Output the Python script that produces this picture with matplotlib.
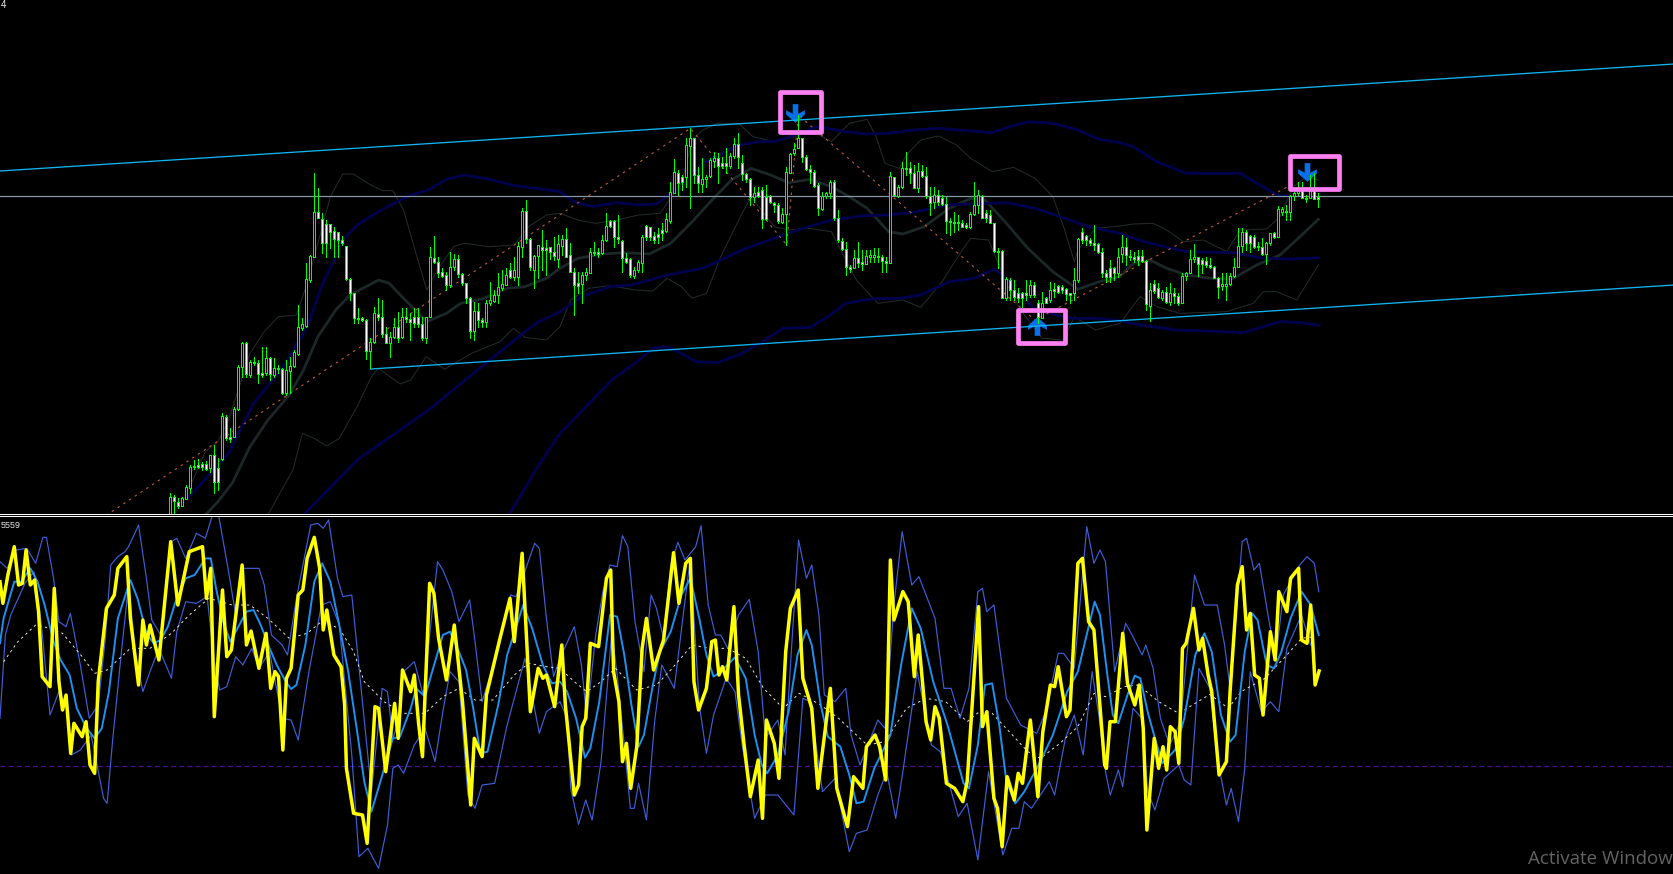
import matplotlib
matplotlib.use("Agg")
import matplotlib.pyplot as plt
from matplotlib.path import Path
from matplotlib.patches import Rectangle

# ---- candle readings (three stretches of bars, each read on its own row scale)
HIGH_A = [1178,1185,1195,1190,1155,1095,1080,1078,1085,1082,1065,1035,1075,940,945,985,920,795,725,727,780,770,780,742,742,770,775,795,805,780,770,750,615,655,490,465,220,265,340,360,372,380,395,408,438,535,580,625,652,658,715,620,595,600,680,695,655,635,625,625,640,625,625,650,650,440,408,470,505,515,455,462,465,520,550,590,605,610,655,600,545,570,520,510,505,490,470,425,325,300,415,465,435,390,420,440,410,405]
LOW_A = [1245,1245,1225,1218,1197,1180,1108,1105,1110,1110,1115,1178,1170,1080,1020,1025,1012,930,830,830,830,795,850,830,825,840,830,820,882,885,880,800,765,690,680,545,470,355,460,472,445,470,470,435,540,600,670,670,662,778,805,728,660,710,730,770,715,725,715,665,720,680,680,720,728,650,490,530,530,570,560,510,530,555,610,715,720,680,680,680,615,605,610,570,555,535,540,555,470,430,510,563,535,510,525,478,480,500]
OPEN_A = [1245,1192,1207,1218,1197,1163,1098,1096,1092,1092,1105,1066,1105,1078,952,1010,1010,928,802,730,825,786,790,820,820,775,825,803,808,880,812,798,762,684,678,540,470,337,358,373,373,393,397,420,438,537,580,655,655,660,752,727,642,650,703,728,710,680,712,650,658,652,652,672,714,650,473,487,517,526,555,500,478,523,550,595,692,634,660,665,610,602,586,564,555,510,530,530,442,334,418,510,468,440,445,442,455,478]
CLOSE_A = [1192,1203,1217,1195,1162,1100,1102,1100,1102,1107,1066,1145,1145,948,1015,1018,928,800,730,822,785,790,822,825,775,822,803,808,878,810,798,757,680,672,538,468,337,355,428,428,395,418,420,428,538,580,655,658,660,752,727,640,650,703,728,710,680,714,650,658,666,668,672,714,652,472,486,518,527,554,502,478,522,550,595,694,634,660,665,610,600,586,562,553,525,530,510,437,334,418,500,468,435,450,450,455,468,432]

HIGH_B = [465,445,490,565,575,575,565,505,485,505,465,400,420,420,405,480,520,535,560,540,465,435,440,455,445,430,400,305,238,270,285,175,145,175,260,235,285,235,215,220,230,205,220,175,160,225,280,295,320,320,320,315,345,365,370,385,260,220,190,105,175,225,255,270,310,335,335,300,300,390,475,485,555,510,485,510,510,510,505,505,525,530,275,290,315,245,215,245,255,250,255,260,320,320,330,345,350,415,395,405,420,430,395,305,330,345,390,390,430,505,510,590,595,600,625,635,600,600,605,660,635,650,605,610,615,615,625,640,565,475,445,465,475,435,490,505,570,540,560,505]
LOW_B = [525,530,575,705,640,670,600,580,525,530,522,482,440,500,490,575,550,590,595,575,575,480,480,490,490,480,455,430,340,345,330,320,385,310,335,335,320,290,262,310,265,280,265,235,265,300,305,375,365,350,445,420,370,395,430,430,495,280,225,205,245,270,310,320,405,390,355,355,420,485,510,585,575,565,560,570,550,545,545,545,575,575,550,345,350,325,285,310,325,335,290,355,405,385,375,375,460,465,455,450,440,445,445,405,400,415,425,430,515,565,655,660,660,660,665,680,660,650,650,730,710,670,665,650,640,640,660,670,660,605,490,495,495,510,520,590,605,605,600,590]
OPEN_B = [497,478,525,575,610,612,585,580,517,517,520,480,424,424,472,482,533,538,587,570,548,438,442,468,463,450,452,422,338,278,292,292,197,175,285,312,298,288,242,235,250,250,258,228,193,250,283,298,352,335,330,350,348,368,375,425,403,278,220,205,175,232,268,275,315,388,348,338,305,415,482,508,560,565,535,545,552,530,530,527,530,543,550,292,348,322,268,265,280,325,272,287,348,365,345,355,372,423,425,425,430,435,440,403,375,347,400,405,430,512,513,655,600,630,638,638,640,645,615,668,715,655,660,628,618,620,628,640,640,600,455,467,480,490,493,515,580,565,565,580]
CLOSE_B = [478,530,575,615,618,585,577,517,520,522,480,437,437,472,478,535,545,585,570,545,470,470,470,480,472,458,418,335,275,310,305,195,175,285,310,298,290,240,235,257,258,258,228,193,230,282,298,352,338,347,418,418,365,375,422,403,277,222,207,175,232,268,275,317,385,348,338,305,415,480,508,562,567,535,550,552,527,525,525,530,543,550,287,345,320,265,265,280,325,272,287,348,368,345,365,372,422,427,428,430,440,440,403,375,345,413,413,430,512,515,655,597,630,650,655,655,645,615,645,710,670,668,630,632,635,630,642,645,600,478,480,480,490,495,515,580,592,590,580,530]

HIGH_C = [315,325,360,365,360,360,390,460,450,460,480,470,460,475,490,430,425,360,343,380,385,380,385,408,440,430,430,430,385,295,295,300,315,315,335,325,335,310,305,228,230,225,195,185,155,155,195,135,130,190]
LOW_C = [395,405,390,395,405,395,540,572,490,505,510,520,525,520,525,520,450,430,395,437,430,410,415,445,505,480,510,465,440,410,365,360,365,355,360,375,403,345,325,320,255,270,270,210,195,205,215,205,205,230]
OPEN_C = [372,352,377,381,378,379,392,528,463,473,505,487,515,490,497,518,437,428,388,382,391,394,405,410,443,468,468,462,437,410,347,307,318,320,348,350,373,338,310,320,245,242,247,197,190,180,203,205,180,200]
CLOSE_C = [352,375,382,388,390,393,523,480,482,500,487,515,490,497,520,438,428,388,382,403,403,405,412,443,470,462,462,437,412,347,307,338,338,352,352,373,338,310,322,238,238,245,197,190,180,205,206,180,207,207]

# ---- price panel overlays: (bar-axis reading, row reading)
CHANNEL_UP = [(0, 213), (4687, -108)]
CHANNEL_LOW = [(1038, 807), (4687, 555)]
PIVOT_LEVEL = 289
ZIGZAG = [(297, 1246), (1933, 85), (2203, 435), (2235, 45), (2898, 660), (3615, 255)]

NAVY_UP_A = [(525,1195),(640,1060),(710,910),(800,790),(860,680),(900,560),(960,420),(1000,375),(1075,325),(1150,285),(1200,270),(1250,238),(1300,225),(1370,238),(1440,257),(1500,265),(1568,275)]
NAVY_UP_B = [(40,365),(90,380),(160,368),(220,375),(270,372),(310,340),(355,310),(400,250),(500,195),(560,185),(600,185),(660,165),(720,140),(800,155),(860,162),(920,160),(990,150),(1060,145),(1140,152),(1210,158),(1260,140),(1310,125),(1380,130),(1450,150),(1510,178),(1568,188)]
NAVY_UP_C = [(400,50),(470,95),(560,130),(720,130),(780,165),(830,195),(870,200)]

NAVY_MID_A = [(850,1245),(1000,1080),(1200,930),(1360,790),(1500,670),(1568,635)]
NAVY_MID_B = [(60,650),(140,620),(200,615),(300,585),(400,565),(450,540),(520,505),(600,475),(680,445),(760,420),(850,407),(920,405),(1000,395),(1080,375),(1150,372),(1250,368),(1330,385),(1400,410),(1480,440),(1568,460)]
NAVY_MID_C = [(400,325),(470,345),(560,365),(700,368),(790,385),(880,387),(955,383)]

NAVY_LOW_A = [(1425,1245),(1500,1110),(1568,1000)]
NAVY_LOW_B = [(145,900),(210,850),(260,805),(300,800),(340,820),(380,845),(440,848),(500,825),(560,790),(625,745),(700,742),(750,710),(800,670),(870,657),(950,655),(1010,645),(1090,605),(1160,595),(1215,568),(1240,585),(1270,620),(1330,690),(1430,715),(1500,715),(1568,722)]
NAVY_LOW_C = [(420,585),(530,600),(620,603),(730,608),(790,590),(840,575),(900,578),(955,585)]

BASIS_A = [(575,1245),(610,1205),(650,1150),(700,1040),(750,960),(810,885),(850,810),(890,710),(940,630),(980,585),(1060,540),(1090,550),(1130,595),(1195,665),(1250,640),(1290,610),(1350,597),(1420,565),(1470,560),(1530,535),(1568,505)]
BASIS_B = [(50,535),(120,522),(180,518),(250,522),(310,490),(370,425),(430,355),(480,300),(535,265),(590,285),(640,308),(700,298),(760,320),(810,350),(860,385),(920,455),(960,462),(1020,440),(1090,385),(1150,355),(1190,360),(1250,430),(1310,505),(1380,575),(1450,628),(1510,605),(1568,590)]
BASIS_C = [(400,400),(450,390),(500,415),(560,435),(650,447),(700,445),(770,405),(840,375),(900,320),(955,268)]

THIN_UP_A = [(530,1165),(575,1055),(610,1025),(640,960),(700,760),(740,695),(780,650),(830,645),(860,550),(900,390),(925,290),(960,222),(990,222),(1030,250),(1070,272),(1100,272),(1130,330),(1170,480),(1195,570),(1225,510),(1270,440),(1300,430),(1370,440),(1440,435),(1480,380),(1530,345),(1568,340)]
THIN_UP_B = [(50,420),(100,430),(160,420),(220,405),(280,400),(340,310),(370,180),(400,150),(440,130),(500,130),(540,170),(600,185),(660,170),(700,150),(760,185),(810,130),(860,118),(885,170),(910,250),(950,265),(970,225),(1010,180),(1060,168),(1110,195),(1150,235),(1210,275),(1270,262),(1330,295),(1380,350),(1410,440),(1440,545),(1450,510),(1500,445),(1568,438)]
THIN_UP_C = [(400,282),(460,280),(500,300),(550,335),(610,330),(680,365),(720,300),(800,297),(840,260),(880,170),(920,140),(955,150)]

THIN_LOW_A = [(750,1245),(820,1110),(847,1000),(880,1015),(915,1038),(950,1015),(1000,920),(1040,830),(1060,805),(1120,852),(1150,840),(1193,770),(1245,808),(1320,760),(1400,725),(1438,685),(1470,712),(1530,720),(1568,680)]
THIN_LOW_B = [(30,660),(80,625),(140,617),(210,630),(260,633),(300,595),(340,620),(370,655),(410,640),(450,530),(510,400),(535,350),(600,440),(640,450),(700,445),(760,455),(800,540),(830,600),(890,670),(960,660),(1010,682),(1070,605),(1120,520),(1150,475),(1200,480),(1250,610),(1290,690),(1350,775),(1410,780),(1440,710),(1500,750),(1568,730)]
THIN_LOW_C = [(420,500),(470,530),(540,550),(600,548),(680,545),(760,520),(790,485),(830,485),(890,510),(955,405)]

# ---- oscillator panel
YELLOW_A = [(0,230),(8,295),(22,210),(40,125),(52,240),(63,235),(73,135),(85,240),(97,225),(108,320),(118,515),(140,545),(152,250),(165,530),(175,615),(185,570),(198,745),(207,655),(230,695),(241,650),(252,780),(265,805),(275,530),(298,310),(320,270),(330,190),(355,155),(365,340),(388,540),(400,345),(410,420),(420,360),(445,465),(478,110),(498,300),(530,140),(567,125),(578,280),(590,190),(600,635),(623,255),(635,455),(648,435),(678,180),(690,420),(703,378),(725,490),(745,385),(758,550),(770,500),(780,515),(792,735),(802,520),(815,490),(835,270),(848,255),(860,160),(880,97),(895,190),(905,375),(915,315),(935,450),(955,485),(965,600),(970,790),(990,925),(1015,930),(1028,1015),(1050,605),(1060,610),(1080,800),(1105,595),(1115,700),(1127,495),(1150,560),(1160,510),(1172,655),(1183,755),(1203,235),(1215,265),(1228,400),(1250,525),(1272,360),(1295,590),(1318,900),(1328,700),(1350,755),(1362,570),(1400,400),(1428,280),(1440,410),(1462,145),(1485,620),(1507,490),(1520,520),(1530,510),(1553,605)]
YELLOW_B = [(5,420),(15,600),(40,870),(52,840),(62,665),(72,640),(85,415),(108,425),(130,220),(142,195),(150,500),(165,590),(175,770),(186,715),(198,850),(215,725),(230,430),(242,340),(262,495),(290,405),(318,143),(333,295),(352,175),(365,160),(375,530),(388,615),(410,550),(425,410),(435,405),(445,510),(455,485),(467,525),(487,305),(500,570),(515,715),(533,875),(555,765),(567,940),(578,645),(600,715),(613,820),(632,440),(645,310),(667,255),(680,520),(705,610),(722,850),(757,550),(775,850),(805,965),(822,815),(848,850),(858,725),(882,690),(895,725),(912,825),(925,165),(935,345),(960,260),(975,290),(992,515),(1003,390),(1025,650),(1038,705),(1050,605),(1062,640),(1082,835),(1105,850),(1128,890),(1140,830),(1172,305),(1183,665),(1195,620),(1215,880),(1225,910),(1238,1025),(1252,815),(1272,885),(1283,805),(1295,835),(1317,645),(1338,875),(1352,680),(1373,540),(1385,545),(1395,485),(1418,635),(1428,615),(1450,175),(1463,160),(1480,350),(1495,375),(1525,780),(1530,790),(1540,650),(1555,650)]
YELLOW_C = [(62,385),(75,535),(95,600),(107,540),(118,670),(128,975),(148,700),(160,790),(172,725),(182,795),(192,665),(205,680),(215,775),(225,430),(235,415),(255,310),(270,435),(280,400),(295,510),(305,560),(325,810),(345,770),(355,560),(375,240),(388,185),(400,375),(410,325),(422,510),(435,520),(445,630),(465,380),(478,465),(488,260),(510,320),(520,220),(542,190),(550,405),(565,415),(575,300),(587,540),(598,498)]

SIGNAL_A = [(0,415),(10,340),(40,230),(60,230),(85,190),(105,230),(125,300),(150,410),(170,465),(195,510),(215,610),(240,665),(265,700),(285,670),(305,560),(330,340),(365,225),(385,280),(410,385),(430,415),(450,405),(470,365),(490,295),(520,220),(545,210),(575,160),(590,160),(605,250),(625,350),(645,410),(665,370),(690,320),(710,315),(730,360),(755,430),(775,480),(800,530),(815,552),(830,540),(855,420),(880,230),(902,175),(925,230),(950,360),(975,500),(1000,680),(1020,830),(1040,920),(1065,830),(1100,700),(1120,695),(1150,610),(1165,550),(1190,575),(1210,500),(1240,390),(1260,380),(1285,440),(1305,495),(1325,610),(1345,745),(1365,740),(1395,600),(1420,450),(1465,300),(1490,370),(1520,480),(1545,535)]
SIGNAL_B = [(0,530),(20,560),(45,640),(70,758),(85,730),(110,590),(140,330),(160,335),(180,450),(200,600),(220,725),(235,690),(260,540),(280,440),(310,380),(340,270),(365,220),(390,340),(410,450),(430,515),(450,500),(490,457),(520,520),(545,690),(565,780),(580,805),(610,750),(640,620),(665,450),(690,375),(705,420),(730,600),(750,695),(785,725),(810,810),(830,895),(850,890),(880,790),(905,735),(925,690),(955,480),(985,310),(1010,370),(1045,530),(1085,660),(1130,835),(1145,850),(1170,720),(1190,540),(1210,535),(1230,660),(1250,830),(1275,895),(1300,860),(1340,780),(1380,690),(1420,560),(1450,500),(1497,290)]
SIGNAL_C = [(0,330),(20,510),(35,630),(50,655),(75,570),(95,512),(110,520),(130,620),(150,700),(170,775),(205,735),(230,640),(260,450),(285,385),(305,440),(330,630),(355,710),(370,690),(395,440),(415,325),(430,345),(455,480),(475,490),(495,440),(520,340),(550,260),(575,300),(597,390)]

BAND_UP_A = [(0,170),(20,190),(45,135),(75,130),(100,175),(120,97),(130,97),(150,220),(165,350),(185,365),(197,325),(225,480),(250,640),(275,600),(295,400),(310,180),(330,155),(350,140),(360,125),(388,60),(410,220),(425,345),(450,390),(480,110),(495,100),(520,160),(550,85),(575,100),(595,30),(612,30),(640,200),(660,330),(680,190),(725,190),(740,240),(760,390),(790,420),(805,450),(830,280),(870,60),(890,55),(905,70),(920,45),(945,220),(960,275),(985,270),(1040,860),(1070,550),(1085,560),(1100,700),(1115,650),(1130,500),(1160,470),(1185,570),(1225,170),(1240,195),(1265,260),(1285,350),(1315,285),(1330,410),(1350,590),(1395,430),(1430,270),(1445,275),(1497,115),(1510,130),(1530,340),(1550,515)]
BAND_UP_B = [(0,460),(40,365),(60,480),(75,640),(100,390),(120,260),(140,180),(160,185),(175,92),(190,125),(210,350),(235,500),(255,270),(270,310),(290,400),(310,180),(330,112),(350,165),(380,125),(395,62),(415,300),(435,390),(450,390),(470,430),(500,330),(530,283),(555,440),(575,700),(610,645),(630,750),(650,400),(668,105),(690,220),(705,180),(725,330),(740,570),(770,590),(800,550),(815,690),(840,780),(890,645),(910,670),(935,300),(958,80),(985,240),(1005,215),(1050,340),(1075,550),(1095,550),(1120,640),(1145,550),(1170,260),(1183,250),(1195,320),(1215,300),(1250,580),(1290,660),(1335,685),(1360,620),(1395,445),(1410,445),(1440,490),(1475,65),(1495,175)]
BAND_UP_C = [(0,135),(15,170),(40,500),(70,355),(90,395),(115,450),(125,420),(145,490),(165,640),(190,720),(220,650),(258,210),(285,300),(320,300),(340,420),(355,550),(388,110),(400,100),(420,195),(435,175),(460,340),(480,460),(500,270),(545,180),(565,155),(585,175),(597,260)]

BAND_LOW_A = [(0,640),(15,390),(30,330),(70,235),(95,200),(115,350),(140,630),(165,560),(185,600),(200,750),(225,735),(255,690),(290,880),(300,895),(315,710),(340,440),(360,240),(380,450),(400,560),(420,500),(445,430),(480,520),(495,380),(520,290),(550,295),(580,275),(600,470),(615,555),(635,545),(660,455),(680,480),(705,430),(725,490),(755,440),(790,640),(815,645),(835,705),(865,500),(900,300),(925,290),(950,360),(985,750),(1005,1055),(1030,1030),(1060,1090),(1085,960),(1100,790),(1115,780),(1130,805),(1160,720),(1190,670),(1218,770),(1240,620),(1260,500),(1285,530),(1310,870),(1330,910),(1350,840),(1385,835),(1420,660),(1470,460),(1510,685),(1530,620)]
BAND_LOW_B = [(0,590),(20,640),(30,850),(52,958),(72,885),(90,945),(115,770),(145,380),(160,510),(180,720),(197,910),(208,910),(220,835),(242,945),(265,650),(285,480),(320,550),(345,330),(365,160),(390,600),(410,745),(430,630),(465,520),(490,560),(510,720),(545,940),(575,870),(610,870),(655,930),(680,580),(700,590),(735,860),(770,820),(810,1040),(830,985),(860,975),(890,870),(915,800),(940,940),(960,800),(1000,500),(1040,720),(1065,740),(1115,935),(1140,895),(1170,1065),(1200,800),(1240,1050),(1265,970),(1285,970),(1300,890),(1320,910),(1370,830),(1385,870),(1415,700),(1440,630),(1465,750),(1490,500),(1510,640)]
BAND_LOW_C = [(15,800),(28,870),(50,795),(62,845),(90,610),(115,640),(130,860),(150,915),(175,820),(215,780),(230,825),(248,840),(270,490),(300,550),(320,760),(345,900),(358,850),(378,950),(395,790),(410,500),(440,620),(465,590),(488,620),(510,430),(550,330),(575,420)]

AVG_A = [(10,470),(50,410),(100,360),(140,370),(175,385),(230,455),(265,505),(300,495),(365,430),(420,430),(480,385),(530,330),(585,280),(650,300),(700,300),(750,340),(810,400),(860,385),(900,350),(950,370),(990,440),(1020,530),(1075,590),(1130,625),(1190,625),(1240,575),(1285,550),(1330,585),(1380,585),(1440,510),(1480,475),(1530,485)]
AVG_B = [(0,490),(40,530),(75,560),(115,530),(155,490),(215,555),(270,540),(310,495),(370,420),(420,430),(470,430),(520,460),(570,550),(625,610),(670,565),(730,600),(780,640),(860,720),(910,710),(970,610),(1025,580),(1080,590),(1140,650),(1180,615),(1210,625),(1310,740),(1345,760),(1400,715),(1450,665),(1495,565)]
AVG_C = [(15,575),(65,545),(105,540),(160,590),(215,625),(245,605),(300,568),(350,610),(385,560),(450,520),(510,450),(550,400),(585,395)]

LOWER_LEVEL = 782
SIGNAL_ARROWS = [(2226, 40, "down"), (2903, 678, "up"), (3660, 216, "down")]
HIGHLIGHTS = [(2185, -23, 2300, 95), (2850, 629, 2982, 728), (3613, 167, 3748, 266)]

FIG_W, FIG_H, DPI = 1674, 874, 100
UNITS_PER_PX_X, UNITS_PER_PX_Y = 2.8, 3.0
BAR0, BAR_STEP = 476.0, 11.2


def join(a, b, c, c_scale, c_base, b_y=0, c_y=0):
    xs = [p[0] for p in a] + [p[0] + 1568 for p in b] + [c_base + c_scale * p[0] for p in c]
    ys = [p[1] for p in a] + [p[1] + b_y for p in b] + [p[1] + c_y for p in c]
    return xs, ys


def price_line(a, b, c):
    return join(a, b, c, 2.8 / 3, 2800, -60, 90)


def osc_line(a, b, c):
    return join(a, b, c, 1.026, 3080)


fig = plt.figure(figsize=(FIG_W / DPI, FIG_H / DPI), dpi=DPI, facecolor="black")
ax1 = fig.add_axes([0, 1 - 514 / FIG_H, 1, 514 / FIG_H], facecolor="black")
ax2 = fig.add_axes([0, 0, 1, (FIG_H - 516) / FIG_H], facecolor="black")
for ax, side in ((ax1, "bottom"), (ax2, "top")):
    ax.set_xlim(0, FIG_W * UNITS_PER_PX_X)
    ax.set_xticks([]); ax.set_yticks([])
    for name, sp in ax.spines.items():
        sp.set_visible(name == side)
        sp.set_color("white")
        sp.set_linewidth(0.75)
ax1.set_ylim(1242, -300)
ax2.set_ylim(1107, 33)

# price panel: indicator lines under the candles
THIN_COL, BASIS_COL, NAVY_COL = "#242a2a", "#1c2828", "#00004e"
for a, b, c in ((THIN_UP_A, THIN_UP_B, THIN_UP_C), (THIN_LOW_A, THIN_LOW_B, THIN_LOW_C)):
    ax1.plot(*price_line(a, b, c), color=THIN_COL, lw=0.75, zorder=1)
ax1.plot(*price_line(BASIS_A, BASIS_B, BASIS_C), color=BASIS_COL, lw=2.0, zorder=1)
for a, b, c in ((NAVY_UP_A, NAVY_UP_B, NAVY_UP_C), (NAVY_MID_A, NAVY_MID_B, NAVY_MID_C), (NAVY_LOW_A, NAVY_LOW_B, NAVY_LOW_C)):
    ax1.plot(*price_line(a, b, c), color=NAVY_COL, lw=2.0, zorder=1)
ax1.axhline(PIVOT_LEVEL, color="#8496a6", lw=0.9, zorder=1.5)
ax1.plot(*zip(*ZIGZAG), color="#bc6038", lw=0.8, ls=(0, (2.2, 4)), zorder=1.6)
for line in (CHANNEL_UP, CHANNEL_LOW):
    ax1.plot(*zip(*line), color="#10b4f0", lw=0.95, zorder=2.5)

# arrows
arrow_pts = [(-.3, 1), (.3, 1), (.3, -.02), (1, .35), (1, -.12), (0, -1), (-1, -.12), (-1, .35), (-.3, -.02), (-.3, 1)]
down_marker = Path(arrow_pts, closed=True)
up_marker = Path([(x, -y) for x, y in arrow_pts], closed=True)
for ax_x, ax_y, way in SIGNAL_ARROWS:
    ax1.plot([ax_x], [ax_y], marker=down_marker if way == "down" else up_marker,
             ms=13.5, color="#0a6ee6", mec="none", ls="none", zorder=2)

# candles
highs = HIGH_A + [v - 60 for v in HIGH_B] + [v + 90 for v in HIGH_C]
lows = LOW_A + [v - 60 for v in LOW_B] + [v + 90 for v in LOW_C]
opens = OPEN_A + [v - 60 for v in OPEN_B] + [v + 90 for v in OPEN_C]
closes = CLOSE_A + [v - 60 for v in CLOSE_B] + [v + 90 for v in CLOSE_C]
bar_x = [BAR0 + BAR_STEP * i for i in range(len(highs))]
ax1.vlines(bar_x, highs, lows, color="#00ff00", lw=0.72, zorder=3, antialiased=False)
tops = [min(o, c) for o, c in zip(opens, closes)]
heights = [max(abs(o - c), 3) for o, c in zip(opens, closes)]
fills = ["white" if c > o else "black" for o, c in zip(opens, closes)]
ax1.bar(bar_x, heights, bottom=tops, width=2 * UNITS_PER_PX_X, color=fills,
        edgecolor="#00ff00", linewidth=0.72, zorder=3.2, align="center",
        antialiased=False)

# highlight boxes
for x0, y0, x1, y1 in HIGHLIGHTS:
    ax1.add_patch(Rectangle((x0, y0), x1 - x0, y1 - y0, fill=False, edgecolor="#ff80f2",
                            lw=3.4, joinstyle="round", zorder=5))

# oscillator panel
ax2.axhline(LOWER_LEVEL, color="#4b0f8c", lw=0.9, ls=(0, (4, 2.5)), zorder=1)
for a, b, c in ((BAND_UP_A, BAND_UP_B, BAND_UP_C), (BAND_LOW_A, BAND_LOW_B, BAND_LOW_C)):
    ax2.plot(*osc_line(a, b, c), color="#3f5fd8", lw=0.85, zorder=2)
ax2.plot(*osc_line(AVG_A, AVG_B, AVG_C), color="#e8e8e0", lw=0.7, ls=(0, (2.5, 3.5)), zorder=2.2)
ax2.plot(*osc_line(SIGNAL_A, SIGNAL_B, SIGNAL_C), color="#1e90f0", lw=1.4, zorder=2.4)
ax2.plot(*osc_line(YELLOW_A, YELLOW_B, YELLOW_C), color="#ffff00", lw=2.5, zorder=3,
         solid_joinstyle="round")

# small labels and overlay text
fig.text(0.5 / FIG_W, 1 - 525 / FIG_H, "5559", color="#e6e6e6", fontsize=6.4,
         ha="left", va="center", family="Liberation Sans")
fig.text(1 / FIG_W, 1 - 0.5 / FIG_H, "4", color="#f0f0f0", fontsize=7,
         ha="left", va="top", family="Liberation Sans")
fig.text(1528 / FIG_W, 1 - 859 / FIG_H, "Activate Windows", color="#636363", fontsize=13.5,
         ha="left", va="center", family="Open Sans")

fig.savefig("out.png", dpi=DPI, facecolor="black")
